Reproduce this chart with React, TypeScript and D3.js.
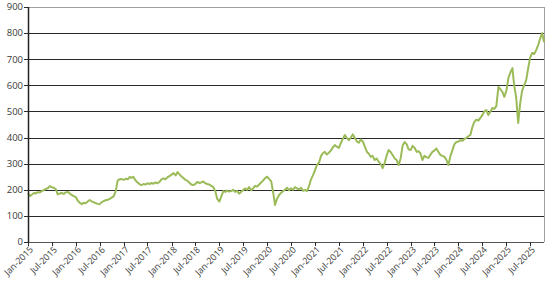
import React from "react";
import * as d3 from "d3";

// Semi-monthly index values (1st and 16th of each month)
const v2015 = [188, 176, 182, 188, 186, 191, 190, 195, 199, 203, 206, 214, 210, 208, 203, 182, 186, 188, 184, 190, 192, 186, 180, 176];
const v2016 = [172, 158, 150, 145, 150, 148, 155, 161, 156, 152, 149, 146, 145, 152, 157, 160, 162, 165, 170, 175, 195, 236, 240, 241];
const v2017 = [238, 242, 240, 249, 246, 250, 236, 228, 222, 218, 222, 220, 225, 222, 226, 223, 228, 225, 230, 240, 244, 240, 248, 252];
const v2018 = [258, 264, 255, 268, 260, 252, 245, 238, 235, 228, 220, 218, 222, 230, 226, 228, 232, 225, 222, 220, 215, 210, 195, 165];
const v2019 = [155, 175, 195, 192, 197, 193, 195, 200, 192, 196, 185, 192, 198, 205, 200, 210, 198, 205, 215, 212, 220, 228, 235, 245];
const v2020 = [250, 242, 232, 190, 142, 165, 180, 188, 195, 200, 208, 198, 206, 200, 210, 205, 202, 208, 196, 200, 195, 215, 240, 255];
const v2021 = [276, 295, 305, 330, 340, 345, 335, 342, 350, 362, 371, 365, 360, 378, 395, 410, 398, 390, 400, 412, 398, 385, 380, 392];
const v2022 = [385, 365, 345, 338, 326, 330, 314, 320, 308, 300, 283, 302, 330, 352, 345, 333, 320, 314, 295, 320, 370, 383, 375, 355];
const v2023 = [352, 368, 360, 345, 348, 340, 314, 330, 325, 322, 335, 345, 350, 358, 345, 333, 330, 326, 315, 295, 330, 352, 375, 383];
const v2024 = [385, 390, 388, 395, 398, 405, 410, 440, 460, 468, 465, 475, 486, 500, 505, 486, 500, 513, 510, 520, 594, 585, 575, 556];
const v2025 = [580, 628, 650, 666, 600, 556, 456, 531, 580, 600, 620, 665, 705, 724, 720, 735, 755, 780, 800, 765];

const years = [2015, 2016, 2017, 2018, 2019, 2020, 2021, 2022, 2023, 2024, 2025];
const yearValues = [v2015, v2016, v2017, v2018, v2019, v2020, v2021, v2022, v2023, v2024, v2025];

const yTicks = [0, 100, 200, 300, 400, 500, 600, 700, 800, 900];
const monthNames = ["Jan", "Feb", "Mar", "Apr", "May", "Jun", "Jul", "Aug", "Sep", "Oct", "Nov", "Dec"];

type Pt = { date: Date; value: number };
const data: Pt[] = [];
years.forEach((y, yi) => {
  yearValues[yi].forEach((v, i) => {
    data.push({ date: new Date(y, Math.floor(i / 2), i % 2 === 0 ? 1 : 16), value: v });
  });
});

const xTickDates: Date[] = [];
for (let y = 2015; y <= 2025; y++) {
  xTickDates.push(new Date(y, 0, 1));
  xTickDates.push(new Date(y, 6, 1));
}

const W = 549;
const H = 289;
const L = 28;
const R = 544;
const T = 7;
const B = 242;

export default function App() {
  const x = d3.scaleTime().domain([new Date(2015, 0, 1), new Date(2025, 9, 15)]).range([L, R]);
  const y = d3.scaleLinear().domain([0, 900]).range([B, T]);
  const line = d3
    .line<Pt>()
    .x((d) => x(d.date))
    .y((d) => y(d.value));

  const font = "'Open Sans', 'DejaVu Sans', sans-serif";
  return (
    <svg
      width={W}
      height={H}
      style={{ position: "absolute", left: 0, top: 0, background: "#fff" }}
      fontFamily={font}
    >
      {yTicks.map((t) => (
        <g key={t}>
          {t > 0 && (
            <line
              x1={L}
              x2={R}
              y1={Math.round(y(t)) + 0.5}
              y2={Math.round(y(t)) + 0.5}
              stroke={t === 900 ? "#a0a0a0" : "#2a2a2a"}
              strokeWidth={1}
            />
          )}
          <line x1={L - 4} x2={L} y1={Math.round(y(t)) + 0.5} y2={Math.round(y(t)) + 0.5} stroke="#2a2a2a" />
          <text x={L - 5} y={y(t)} dy="0.35em" textAnchor="end" fontSize={9.5} fill="#3a3a3a">
            {t}
          </text>
        </g>
      ))}
      <line x1={R + 0.5} x2={R + 0.5} y1={T} y2={B} stroke="#a0a0a0" />
      <path d={line(data) || ""} fill="none" stroke="#9bbb59" strokeWidth={2} strokeLinejoin="round" />
      <line x1={L + 0.5} x2={L + 0.5} y1={T} y2={B + 1} stroke="#222" strokeWidth={1.5} />
      <line x1={L} x2={R} y1={Math.round(B) + 0.5} y2={Math.round(B) + 0.5} stroke="#555" strokeWidth={1.2} />
      {xTickDates.map((d, i) => {
        const xx = Math.round(x(d)) + 0.5;
        return (
          <g key={i}>
            <line x1={xx} x2={xx} y1={B} y2={B + 4} stroke="#2a2a2a" />
            <text
              transform={`translate(${xx + 3},${B + 6}) rotate(-45)`}
              textAnchor="end"
              dy="0.35em"
              fontSize={9}
              fill="#3a3a3a"
            >
              {`${monthNames[d.getMonth()]}-${d.getFullYear()}`}
            </text>
          </g>
        );
      })}
    </svg>
  );
}
